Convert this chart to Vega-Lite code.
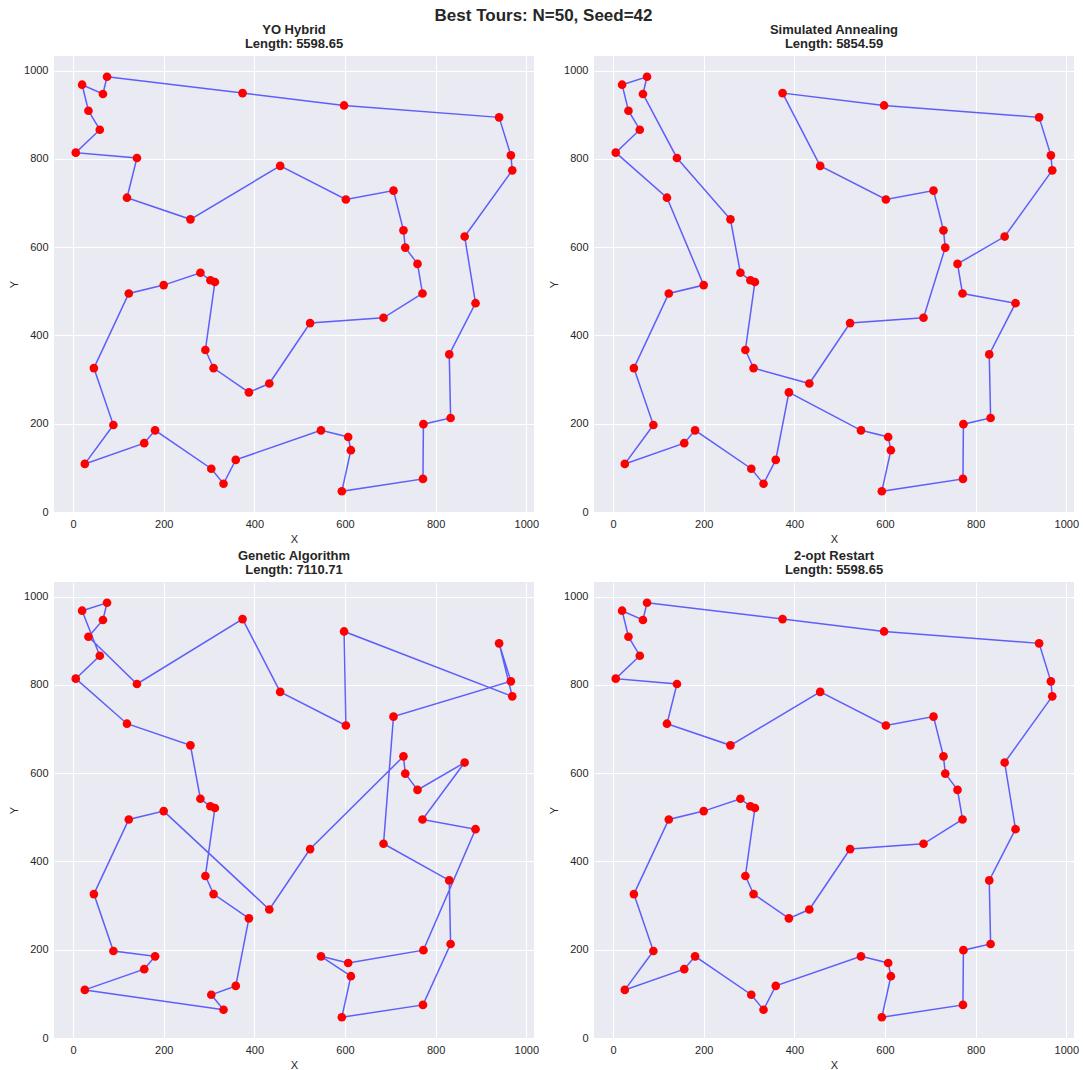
{
  "$schema": "https://vega.github.io/schema/vega-lite/v6.json",
  "background": "white",
  "padding": {"left": 8, "top": 7, "right": 2, "bottom": 0},
  "title": {"text": "Best Tours: N=50, Seed=42", "fontSize": 17, "fontWeight": "bold", "font": "Liberation Sans", "color": "#262626", "anchor": "middle", "offset": -1},
  "datasets": {
    "cities": [
      {"city":0,"x":75,"y":986},{"city":1,"x":374,"y":949},{"city":2,"x":598,"y":921},{"city":3,"x":940,"y":894},
      {"city":4,"x":966,"y":808},{"city":5,"x":969,"y":774},{"city":6,"x":864,"y":624},{"city":7,"x":888,"y":473},
      {"city":8,"x":830,"y":357},{"city":9,"x":833,"y":213},{"city":10,"x":773,"y":199},{"city":11,"x":772,"y":75},
      {"city":12,"x":593,"y":47},{"city":13,"x":613,"y":140},{"city":14,"x":607,"y":170},{"city":15,"x":547,"y":185},
      {"city":16,"x":359,"y":118},{"city":17,"x":332,"y":64},{"city":18,"x":305,"y":98},{"city":19,"x":181,"y":185},
      {"city":20,"x":157,"y":156},{"city":21,"x":26,"y":109},{"city":22,"x":89,"y":197},{"city":23,"x":46,"y":326},
      {"city":24,"x":123,"y":495},{"city":25,"x":200,"y":514},{"city":26,"x":281,"y":542},{"city":27,"x":303,"y":525},
      {"city":28,"x":313,"y":521},{"city":29,"x":292,"y":367},{"city":30,"x":310,"y":326},{"city":31,"x":388,"y":271},
      {"city":32,"x":433,"y":291},{"city":33,"x":523,"y":428},{"city":34,"x":685,"y":440},{"city":35,"x":771,"y":495},
      {"city":36,"x":760,"y":562},{"city":37,"x":733,"y":599},{"city":38,"x":729,"y":638},{"city":39,"x":707,"y":728},
      {"city":40,"x":602,"y":708},{"city":41,"x":457,"y":784},{"city":42,"x":259,"y":663},{"city":43,"x":119,"y":712},
      {"city":44,"x":141,"y":802},{"city":45,"x":6,"y":814},{"city":46,"x":59,"y":866},{"city":47,"x":34,"y":909},
      {"city":48,"x":20,"y":968},{"city":49,"x":66,"y":947}
    ],
    "tours": [
      {"alg":"YO","step":0,"city":0},{"alg":"YO","step":1,"city":1},{"alg":"YO","step":2,"city":2},{"alg":"YO","step":3,"city":3},{"alg":"YO","step":4,"city":4},{"alg":"YO","step":5,"city":5},{"alg":"YO","step":6,"city":6},{"alg":"YO","step":7,"city":7},{"alg":"YO","step":8,"city":8},{"alg":"YO","step":9,"city":9},
      {"alg":"YO","step":10,"city":10},{"alg":"YO","step":11,"city":11},{"alg":"YO","step":12,"city":12},{"alg":"YO","step":13,"city":13},{"alg":"YO","step":14,"city":14},{"alg":"YO","step":15,"city":15},{"alg":"YO","step":16,"city":16},{"alg":"YO","step":17,"city":17},{"alg":"YO","step":18,"city":18},{"alg":"YO","step":19,"city":19},
      {"alg":"YO","step":20,"city":20},{"alg":"YO","step":21,"city":21},{"alg":"YO","step":22,"city":22},{"alg":"YO","step":23,"city":23},{"alg":"YO","step":24,"city":24},{"alg":"YO","step":25,"city":25},{"alg":"YO","step":26,"city":26},{"alg":"YO","step":27,"city":27},{"alg":"YO","step":28,"city":28},{"alg":"YO","step":29,"city":29},
      {"alg":"YO","step":30,"city":30},{"alg":"YO","step":31,"city":31},{"alg":"YO","step":32,"city":32},{"alg":"YO","step":33,"city":33},{"alg":"YO","step":34,"city":34},{"alg":"YO","step":35,"city":35},{"alg":"YO","step":36,"city":36},{"alg":"YO","step":37,"city":37},{"alg":"YO","step":38,"city":38},{"alg":"YO","step":39,"city":39},
      {"alg":"YO","step":40,"city":40},{"alg":"YO","step":41,"city":41},{"alg":"YO","step":42,"city":42},{"alg":"YO","step":43,"city":43},{"alg":"YO","step":44,"city":44},{"alg":"YO","step":45,"city":45},{"alg":"YO","step":46,"city":46},{"alg":"YO","step":47,"city":47},{"alg":"YO","step":48,"city":48},{"alg":"YO","step":49,"city":49},
      {"alg":"YO","step":50,"city":0},
      {"alg":"TWO","step":0,"city":0},{"alg":"TWO","step":1,"city":1},{"alg":"TWO","step":2,"city":2},{"alg":"TWO","step":3,"city":3},{"alg":"TWO","step":4,"city":4},{"alg":"TWO","step":5,"city":5},{"alg":"TWO","step":6,"city":6},{"alg":"TWO","step":7,"city":7},{"alg":"TWO","step":8,"city":8},{"alg":"TWO","step":9,"city":9},
      {"alg":"TWO","step":10,"city":10},{"alg":"TWO","step":11,"city":11},{"alg":"TWO","step":12,"city":12},{"alg":"TWO","step":13,"city":13},{"alg":"TWO","step":14,"city":14},{"alg":"TWO","step":15,"city":15},{"alg":"TWO","step":16,"city":16},{"alg":"TWO","step":17,"city":17},{"alg":"TWO","step":18,"city":18},{"alg":"TWO","step":19,"city":19},
      {"alg":"TWO","step":20,"city":20},{"alg":"TWO","step":21,"city":21},{"alg":"TWO","step":22,"city":22},{"alg":"TWO","step":23,"city":23},{"alg":"TWO","step":24,"city":24},{"alg":"TWO","step":25,"city":25},{"alg":"TWO","step":26,"city":26},{"alg":"TWO","step":27,"city":27},{"alg":"TWO","step":28,"city":28},{"alg":"TWO","step":29,"city":29},
      {"alg":"TWO","step":30,"city":30},{"alg":"TWO","step":31,"city":31},{"alg":"TWO","step":32,"city":32},{"alg":"TWO","step":33,"city":33},{"alg":"TWO","step":34,"city":34},{"alg":"TWO","step":35,"city":35},{"alg":"TWO","step":36,"city":36},{"alg":"TWO","step":37,"city":37},{"alg":"TWO","step":38,"city":38},{"alg":"TWO","step":39,"city":39},
      {"alg":"TWO","step":40,"city":40},{"alg":"TWO","step":41,"city":41},{"alg":"TWO","step":42,"city":42},{"alg":"TWO","step":43,"city":43},{"alg":"TWO","step":44,"city":44},{"alg":"TWO","step":45,"city":45},{"alg":"TWO","step":46,"city":46},{"alg":"TWO","step":47,"city":47},{"alg":"TWO","step":48,"city":48},{"alg":"TWO","step":49,"city":49},
      {"alg":"TWO","step":50,"city":0},
      {"alg":"SA","step":0,"city":48},{"alg":"SA","step":1,"city":47},{"alg":"SA","step":2,"city":46},{"alg":"SA","step":3,"city":45},{"alg":"SA","step":4,"city":43},{"alg":"SA","step":5,"city":25},{"alg":"SA","step":6,"city":24},{"alg":"SA","step":7,"city":23},{"alg":"SA","step":8,"city":22},{"alg":"SA","step":9,"city":21},
      {"alg":"SA","step":10,"city":20},{"alg":"SA","step":11,"city":19},{"alg":"SA","step":12,"city":18},{"alg":"SA","step":13,"city":17},{"alg":"SA","step":14,"city":16},{"alg":"SA","step":15,"city":31},{"alg":"SA","step":16,"city":15},{"alg":"SA","step":17,"city":14},{"alg":"SA","step":18,"city":13},{"alg":"SA","step":19,"city":12},
      {"alg":"SA","step":20,"city":11},{"alg":"SA","step":21,"city":10},{"alg":"SA","step":22,"city":9},{"alg":"SA","step":23,"city":8},{"alg":"SA","step":24,"city":7},{"alg":"SA","step":25,"city":35},{"alg":"SA","step":26,"city":36},{"alg":"SA","step":27,"city":6},{"alg":"SA","step":28,"city":5},{"alg":"SA","step":29,"city":4},
      {"alg":"SA","step":30,"city":3},{"alg":"SA","step":31,"city":2},{"alg":"SA","step":32,"city":1},{"alg":"SA","step":33,"city":41},{"alg":"SA","step":34,"city":40},{"alg":"SA","step":35,"city":39},{"alg":"SA","step":36,"city":38},{"alg":"SA","step":37,"city":37},{"alg":"SA","step":38,"city":34},{"alg":"SA","step":39,"city":33},
      {"alg":"SA","step":40,"city":32},{"alg":"SA","step":41,"city":30},{"alg":"SA","step":42,"city":29},{"alg":"SA","step":43,"city":28},{"alg":"SA","step":44,"city":27},{"alg":"SA","step":45,"city":26},{"alg":"SA","step":46,"city":42},{"alg":"SA","step":47,"city":44},{"alg":"SA","step":48,"city":49},{"alg":"SA","step":49,"city":0},
      {"alg":"SA","step":50,"city":48},
      {"alg":"GA","step":0,"city":45},{"alg":"GA","step":1,"city":46},{"alg":"GA","step":2,"city":48},{"alg":"GA","step":3,"city":0},{"alg":"GA","step":4,"city":49},{"alg":"GA","step":5,"city":47},{"alg":"GA","step":6,"city":44},{"alg":"GA","step":7,"city":1},{"alg":"GA","step":8,"city":41},{"alg":"GA","step":9,"city":40},
      {"alg":"GA","step":10,"city":2},{"alg":"GA","step":11,"city":5},{"alg":"GA","step":12,"city":3},{"alg":"GA","step":13,"city":4},{"alg":"GA","step":14,"city":39},{"alg":"GA","step":15,"city":34},{"alg":"GA","step":16,"city":8},{"alg":"GA","step":17,"city":9},{"alg":"GA","step":18,"city":11},{"alg":"GA","step":19,"city":12},
      {"alg":"GA","step":20,"city":13},{"alg":"GA","step":21,"city":15},{"alg":"GA","step":22,"city":14},{"alg":"GA","step":23,"city":10},{"alg":"GA","step":24,"city":7},{"alg":"GA","step":25,"city":35},{"alg":"GA","step":26,"city":6},{"alg":"GA","step":27,"city":36},{"alg":"GA","step":28,"city":37},{"alg":"GA","step":29,"city":38},
      {"alg":"GA","step":30,"city":33},{"alg":"GA","step":31,"city":32},{"alg":"GA","step":32,"city":25},{"alg":"GA","step":33,"city":24},{"alg":"GA","step":34,"city":23},{"alg":"GA","step":35,"city":22},{"alg":"GA","step":36,"city":19},{"alg":"GA","step":37,"city":20},{"alg":"GA","step":38,"city":21},{"alg":"GA","step":39,"city":17},
      {"alg":"GA","step":40,"city":18},{"alg":"GA","step":41,"city":16},{"alg":"GA","step":42,"city":31},{"alg":"GA","step":43,"city":30},{"alg":"GA","step":44,"city":29},{"alg":"GA","step":45,"city":28},{"alg":"GA","step":46,"city":27},{"alg":"GA","step":47,"city":26},{"alg":"GA","step":48,"city":42},{"alg":"GA","step":49,"city":43},
      {"alg":"GA","step":50,"city":45}
    ]
  },
  "columns": 2,
  "spacing": {"column": 9, "row": 6},
  "concat": [
    {
      "width": 480, "height": 456,
      "title": {"text": ["YO Hybrid", "Length: 5598.65"]},
      "layer": [
        {"data": {"name": "tours"},
         "transform": [{"filter": "datum.alg === 'YO'"}, {"lookup": "city", "from": {"data": {"name": "cities"}, "key": "city", "fields": ["x", "y"]}}],
         "mark": {"type": "line", "color": "#0000ff", "opacity": 0.6, "strokeWidth": 1.5},
         "encoding": {
           "x": {"field": "x", "type": "quantitative", "scale": {"domain": [-42, 1017], "nice": false, "zero": false}, "axis": {"title": "X", "format": "d", "values": [0, 200, 400, 600, 800, 1000]}},
           "y": {"field": "y", "type": "quantitative", "scale": {"domain": [0, 1033], "nice": false, "zero": false}, "axis": {"title": "Y", "format": "d", "values": [0, 200, 400, 600, 800, 1000]}},
           "order": {"field": "step", "type": "quantitative"}
         }},
        {"data": {"name": "cities"},
         "mark": {"type": "circle", "color": "#ff0000", "size": 75, "opacity": 1},
         "encoding": {"x": {"field": "x", "type": "quantitative"}, "y": {"field": "y", "type": "quantitative"}}}
      ]
    },
    {
      "width": 480, "height": 456,
      "title": {"text": ["Simulated Annealing", "Length: 5854.59"]},
      "layer": [
        {"data": {"name": "tours"},
         "transform": [{"filter": "datum.alg === 'SA'"}, {"lookup": "city", "from": {"data": {"name": "cities"}, "key": "city", "fields": ["x", "y"]}}],
         "mark": {"type": "line", "color": "#0000ff", "opacity": 0.6, "strokeWidth": 1.5},
         "encoding": {
           "x": {"field": "x", "type": "quantitative", "scale": {"domain": [-42, 1017], "nice": false, "zero": false}, "axis": {"title": "X", "format": "d", "values": [0, 200, 400, 600, 800, 1000]}},
           "y": {"field": "y", "type": "quantitative", "scale": {"domain": [0, 1033], "nice": false, "zero": false}, "axis": {"title": "Y", "format": "d", "values": [0, 200, 400, 600, 800, 1000]}},
           "order": {"field": "step", "type": "quantitative"}
         }},
        {"data": {"name": "cities"},
         "mark": {"type": "circle", "color": "#ff0000", "size": 75, "opacity": 1},
         "encoding": {"x": {"field": "x", "type": "quantitative"}, "y": {"field": "y", "type": "quantitative"}}}
      ]
    },
    {
      "width": 480, "height": 456,
      "title": {"text": ["Genetic Algorithm", "Length: 7110.71"]},
      "layer": [
        {"data": {"name": "tours"},
         "transform": [{"filter": "datum.alg === 'GA'"}, {"lookup": "city", "from": {"data": {"name": "cities"}, "key": "city", "fields": ["x", "y"]}}],
         "mark": {"type": "line", "color": "#0000ff", "opacity": 0.6, "strokeWidth": 1.5},
         "encoding": {
           "x": {"field": "x", "type": "quantitative", "scale": {"domain": [-42, 1017], "nice": false, "zero": false}, "axis": {"title": "X", "format": "d", "values": [0, 200, 400, 600, 800, 1000]}},
           "y": {"field": "y", "type": "quantitative", "scale": {"domain": [0, 1033], "nice": false, "zero": false}, "axis": {"title": "Y", "format": "d", "values": [0, 200, 400, 600, 800, 1000]}},
           "order": {"field": "step", "type": "quantitative"}
         }},
        {"data": {"name": "cities"},
         "mark": {"type": "circle", "color": "#ff0000", "size": 75, "opacity": 1},
         "encoding": {"x": {"field": "x", "type": "quantitative"}, "y": {"field": "y", "type": "quantitative"}}}
      ]
    },
    {
      "width": 480, "height": 456,
      "title": {"text": ["2-opt Restart", "Length: 5598.65"]},
      "layer": [
        {"data": {"name": "tours"},
         "transform": [{"filter": "datum.alg === 'TWO'"}, {"lookup": "city", "from": {"data": {"name": "cities"}, "key": "city", "fields": ["x", "y"]}}],
         "mark": {"type": "line", "color": "#0000ff", "opacity": 0.6, "strokeWidth": 1.5},
         "encoding": {
           "x": {"field": "x", "type": "quantitative", "scale": {"domain": [-42, 1017], "nice": false, "zero": false}, "axis": {"title": "X", "format": "d", "values": [0, 200, 400, 600, 800, 1000]}},
           "y": {"field": "y", "type": "quantitative", "scale": {"domain": [0, 1033], "nice": false, "zero": false}, "axis": {"title": "Y", "format": "d", "values": [0, 200, 400, 600, 800, 1000]}},
           "order": {"field": "step", "type": "quantitative"}
         }},
        {"data": {"name": "cities"},
         "mark": {"type": "circle", "color": "#ff0000", "size": 75, "opacity": 1},
         "encoding": {"x": {"field": "x", "type": "quantitative"}, "y": {"field": "y", "type": "quantitative"}}}
      ]
    }
  ],
  "config": {
    "font": "Liberation Sans",
    "view": {"stroke": null, "fill": "#EAEAF2"},
    "title": {"fontSize": 13, "fontWeight": "bold", "color": "#262626", "lineHeight": 14, "offset": 5},
    "axis": {
      "domain": false, "ticks": false, "grid": true, "gridColor": "#ffffff", "gridWidth": 1,
      "labelFontSize": 11, "labelColor": "#262626", "labelPadding": 6,
      "titleFontSize": 11, "titleFontWeight": "normal", "titleColor": "#262626"
    }
  }
}
